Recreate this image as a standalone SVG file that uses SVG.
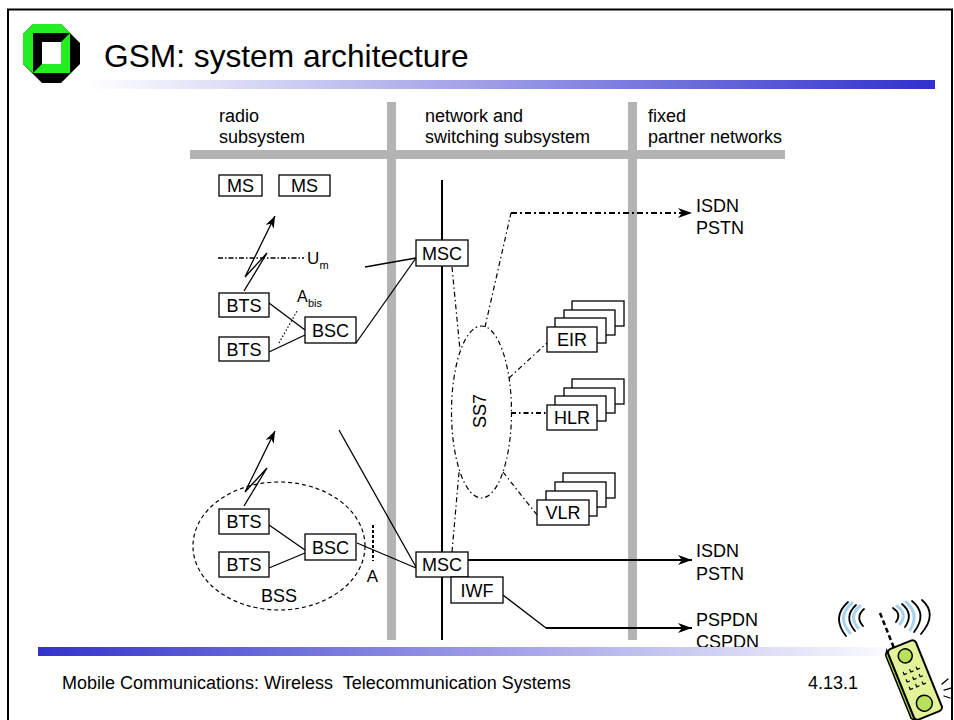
<svg xmlns="http://www.w3.org/2000/svg" width="954" height="720" viewBox="0 0 954 720">
  <style>
    .t { font-family: "Liberation Sans", Arial, Helvetica, sans-serif; font-size: 18px; fill: #000; }
    .sub { font-size: 11px; }
    .box { fill: #fff; stroke: #000; stroke-width: 1.3; }
    .ln { fill: none; stroke: #000; stroke-width: 1.3; }
    .thick { fill: none; stroke: #000; stroke-width: 2; }
    .ss7 { fill: none; stroke: #000; stroke-width: 1.2; stroke-dasharray: 5 3 1.5 3; }
    .gray { fill: #b3b3b3; }
  </style>
  <defs>
    <marker id="ah" viewBox="0 0 14 10" refX="14" refY="5" markerWidth="14" markerHeight="10" markerUnits="userSpaceOnUse" orient="auto">
      <path d="M0,0 L14,5 L0,10 L4,5 z" fill="#000" stroke="none"/>
    </marker>
    <marker id="ahs" viewBox="0 0 12 9" refX="12" refY="4.5" markerWidth="12" markerHeight="9" markerUnits="userSpaceOnUse" orient="auto">
      <path d="M0,0 L12,4.5 L0,9 L3.5,4.5 z" fill="#000" stroke="none"/>
    </marker>
    <linearGradient id="titleBar" x1="0" y1="0" x2="1" y2="0">
      <stop offset="0" stop-color="#ffffff"/>
      <stop offset="1" stop-color="#3030cc"/>
    </linearGradient>
    <linearGradient id="footBar" x1="0" y1="0" x2="1" y2="0">
      <stop offset="0" stop-color="#3333cc"/>
      <stop offset="1" stop-color="#ffffff"/>
    </linearGradient>
  </defs>

  <!-- slide frame -->
  <rect x="8" y="9.5" width="944" height="720" fill="#fff" stroke="#000" stroke-width="2"/>

  <!-- logo -->
  <g id="logo">
    <polygon points="33,24 61,24 80,43 80,64 61,83 42,83 23,64 23,34" fill="#000"/>
    <polygon points="23,34 33,24 61,24 70,33 33,33 33,73 23,64" fill="#22ee22"/>
    <polygon points="33,33 70,33 61,42 42,42 42,64 33,73" fill="#000"/>
    <polygon points="70,33 70,73 33,73 42,64 61,64 61,42" fill="#22ee22"/>
    <rect x="42" y="42" width="19" height="22" fill="#fff"/>
  </g>

  <!-- title -->
  <text class="t" x="104" y="67" style="font-size:31.7px">GSM: system architecture</text>
  <rect x="87" y="80" width="848" height="9" fill="url(#titleBar)"/>

  <!-- subsystem separators -->
  <g id="separators">
    <rect class="gray" x="387" y="102" width="9" height="538"/>
    <rect class="gray" x="628" y="102" width="9" height="538"/>
    <rect class="gray" x="190" y="150" width="595" height="9"/>
  </g>

  <!-- column headings -->
  <text class="t" x="219" y="122">radio</text>
  <text class="t" x="219" y="143">subsystem</text>
  <text class="t" x="425" y="122">network and</text>
  <text class="t" x="425" y="143">switching subsystem</text>
  <text class="t" x="648" y="122">fixed</text>
  <text class="t" x="648" y="143">partner networks</text>

  <!-- NSS backbone -->
  <line x1="442" y1="180" x2="442" y2="640" stroke="#000" stroke-width="2"/>

  <!-- connectors -->
  <g id="connectors">
    <!-- radio links -->
    <polyline class="ln" points="244,291 267,253 245,277 275,216" marker-end="url(#ahs)"/>
    <polyline class="ln" points="244,506 267,468 245,492 275,431" marker-end="url(#ahs)"/>
    <!-- Um interface -->
    <line x1="218" y1="258" x2="304" y2="258" stroke="#000" stroke-width="1.5" stroke-dasharray="5 2 1.5 2"/>
    <!-- Abis interface -->
    <line x1="279" y1="343" x2="297" y2="311" stroke="#000" stroke-width="1.2" stroke-dasharray="1.5 2"/>
    <!-- A interface -->
    <line x1="373" y1="525" x2="373" y2="561" stroke="#000" stroke-width="2" stroke-dasharray="3 2"/>
    <!-- BTS - BSC - MSC (upper) -->
    <line class="ln" x1="269" y1="303" x2="305" y2="330"/>
    <line class="ln" x1="269" y1="352" x2="305" y2="335"/>
    <line class="ln" x1="356" y1="343" x2="416" y2="258"/>
    <line class="ln" x1="365" y1="267" x2="416" y2="258"/>
    <!-- BTS - BSC - MSC (lower) -->
    <line class="ln" x1="269" y1="525" x2="305" y2="550"/>
    <line class="ln" x1="269" y1="568" x2="305" y2="553"/>
    <line class="ln" x1="357" y1="543" x2="416" y2="568"/>
    <line class="ln" x1="339" y1="430" x2="416" y2="567"/>
    <!-- SS7 signalling -->
    <ellipse class="ss7" cx="481.5" cy="412" rx="30" ry="86"/>
    <line class="ss7" x1="452" y1="267" x2="460" y2="350"/>
    <line class="ss7" x1="452" y1="552" x2="459" y2="472"/>
    <line class="ss7" x1="485" y1="327" x2="511" y2="213"/>
    <line class="ss7" x1="509" y1="378" x2="547" y2="343"/>
    <line x1="511" y1="413" x2="547" y2="413" stroke="#000" stroke-width="2" stroke-dasharray="5 3 1.5 3"/>
    <line class="ss7" x1="503" y1="472" x2="537" y2="515"/>
    <line x1="511" y1="213" x2="692" y2="213" stroke="#000" stroke-width="2" stroke-dasharray="6 3 2 3" marker-end="url(#ah)"/>
    <!-- to fixed networks -->
    <line class="thick" x1="468" y1="560" x2="692" y2="560" marker-end="url(#ah)"/>
    <polyline class="ln" points="503,595 546,628"/>
    <line class="thick" x1="546" y1="628" x2="692" y2="628" marker-end="url(#ah)"/>
  </g>

  <!-- interface labels -->
  <text class="t" x="307" y="264" style="font-size:17px">U</text>
  <text class="t sub" x="319.5" y="269">m</text>
  <text class="t" x="297" y="302" style="font-size:16px">A</text>
  <text class="t sub" x="308" y="307">bis</text>
  <text class="t" x="372.5" y="582" text-anchor="middle" style="font-size:17px">A</text>

  <!-- BSS -->
  <g id="bss">
    <ellipse cx="279" cy="546" rx="86" ry="64" fill="none" stroke="#000" stroke-width="1.2" stroke-dasharray="4 3"/>
    <text class="t" x="279" y="602" text-anchor="middle">BSS</text>
  </g>

  <!-- nodes -->
  <g id="ms1"><rect class="box" x="219" y="175" width="43" height="21"/><text class="t" x="240.5" y="192" text-anchor="middle">MS</text></g>
  <g id="ms2"><rect class="box" x="279" y="175" width="51" height="21"/><text class="t" x="304.5" y="192" text-anchor="middle">MS</text></g>

  <g id="bts1"><rect class="box" x="219" y="293" width="50" height="24"/><text class="t" x="244" y="311.5" text-anchor="middle">BTS</text></g>
  <g id="bts2"><rect class="box" x="219" y="337" width="50" height="24"/><text class="t" x="244" y="355.5" text-anchor="middle">BTS</text></g>
  <g id="bsc1"><rect class="box" x="305" y="317" width="51" height="26"/><text class="t" x="330.5" y="336.5" text-anchor="middle">BSC</text></g>
  <g id="msc1"><rect class="box" x="416" y="240" width="52" height="26"/><text class="t" x="442" y="259.5" text-anchor="middle">MSC</text></g>

  <g id="bts3"><rect class="box" x="219" y="509" width="50" height="25"/><text class="t" x="244" y="528" text-anchor="middle">BTS</text></g>
  <g id="bts4"><rect class="box" x="219" y="552" width="50" height="25"/><text class="t" x="244" y="571" text-anchor="middle">BTS</text></g>
  <g id="bsc2"><rect class="box" x="305" y="534" width="51" height="26"/><text class="t" x="330.5" y="553.5" text-anchor="middle">BSC</text></g>
  <g id="msc2"><rect class="box" x="416" y="552" width="52" height="25"/><text class="t" x="442" y="571" text-anchor="middle">MSC</text></g>
  <g id="iwf"><rect class="box" x="451" y="577" width="52" height="26"/><text class="t" x="477" y="596.5" text-anchor="middle">IWF</text></g>

  <g id="ss7"><text class="t" transform="translate(486,411) rotate(-90)" text-anchor="middle">SS7</text></g>

  <g id="eir">
    <rect class="box" x="572" y="301" width="52" height="25"/>
    <rect class="box" x="564" y="310" width="51" height="25"/>
    <rect class="box" x="555" y="318" width="51" height="25"/>
    <rect class="box" x="547" y="327" width="50" height="25"/>
    <text class="t" x="572" y="346" text-anchor="middle">EIR</text>
  </g>
  <g id="hlr">
    <rect class="box" x="572" y="379" width="52" height="25"/>
    <rect class="box" x="564" y="388" width="51" height="25"/>
    <rect class="box" x="555" y="396" width="51" height="25"/>
    <rect class="box" x="547" y="405" width="50" height="25"/>
    <text class="t" x="572" y="424" text-anchor="middle">HLR</text>
  </g>
  <g id="vlr">
    <rect class="box" x="563" y="473" width="52" height="25"/>
    <rect class="box" x="555" y="482" width="51" height="25"/>
    <rect class="box" x="546" y="491" width="51" height="25"/>
    <rect class="box" x="537" y="500" width="52" height="25"/>
    <text class="t" x="563" y="519" text-anchor="middle">VLR</text>
  </g>

  <!-- fixed partner networks -->
  <g id="isdn1"><text class="t" x="696" y="212">ISDN</text><text class="t" x="696" y="234">PSTN</text></g>
  <g id="isdn2"><text class="t" x="696" y="557">ISDN</text><text class="t" x="696" y="580">PSTN</text></g>
  <g id="pspdn"><text class="t" x="696" y="626">PSPDN</text><text class="t" x="696" y="648">CSPDN</text></g>

  <!-- footer -->
  <rect x="38" y="647" width="870" height="9" fill="url(#footBar)"/>
  <text class="t" x="62" y="689" xml:space="preserve">Mobile Communications: Wireless  Telecommunication Systems</text>
  <text class="t" x="808" y="689">4.13.1</text>

  <!-- handset clip-art -->
  <g id="handset">
    <g fill="none" stroke="#a9d3f2" stroke-width="3" stroke-linecap="round">
      <path d="M860,606 Q848,616 858,628"/>
      <path d="M852,603 Q836,617 850,633"/>
      <path d="M897,606 Q908,614 900,624"/>
      <path d="M906,602 Q920,614 910,630"/>
    </g>
    <g fill="none" stroke="#000" stroke-width="1.8" stroke-linecap="round">
      <path d="M864,609 Q855,617 863,626"/>
      <path d="M856,605 Q843,617 855,631"/>
      <path d="M848,602 Q831,617 846,636"/>
      <path d="M893,608 Q902,614 896,622"/>
      <path d="M902,604 Q914,614 905,627"/>
      <path d="M912,601 Q928,614 914,632"/>
      <path d="M922,600 Q938,614 921,634"/>
    </g>
    <line x1="880" y1="613" x2="894" y2="648" stroke="#000" stroke-width="2.5" stroke-dasharray="5 3"/>
    <g transform="translate(915,680) rotate(-22)">
      <path d="M-18,-34 L-15,-38 L-15,38 L-18,34 z" fill="#9fd13b" stroke="#000" stroke-width="1.5"/>
      <rect x="-15" y="-38" width="30" height="76" rx="4" fill="#e3f39a" stroke="#000" stroke-width="2"/>
      <circle cx="0" cy="-26" r="7" fill="#b9e05a" stroke="#000" stroke-width="1.5"/>
      <circle cx="0" cy="25" r="8" fill="#b9e05a" stroke="#000" stroke-width="1.5"/>
      <g fill="none" stroke="#000" stroke-width="1.2">
        <path d="M-8,-12 v3 h3 M-1,-12 v3 h3 M6,-12 v3 h3"/>
        <path d="M-8,-4 v3 h3 M-1,-4 v3 h3 M6,-4 v3 h3"/>
        <path d="M-8,4 v3 h3 M-1,4 v3 h3 M6,4 v3 h3"/>
      </g>
    </g>
    <g stroke="#000" stroke-width="1.3" stroke-linecap="round">
      <line x1="942" y1="684" x2="948" y2="679"/>
      <line x1="944" y1="690" x2="951" y2="688"/>
      <line x1="944" y1="696" x2="950" y2="698"/>
    </g>
  </g>
</svg>
